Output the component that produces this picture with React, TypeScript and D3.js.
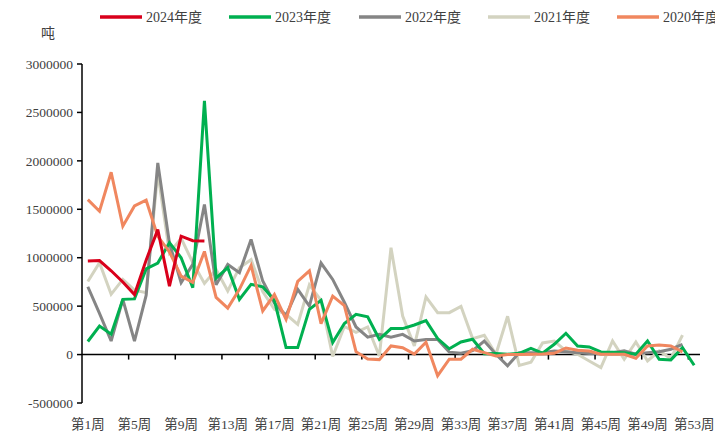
import React from "react";
import * as d3 from "d3";

const weeks: string[] = Array.from({ length: 53 }, (_, i) => `第${i + 1}周`);
const xTickLabels = ["第1周", "第5周", "第9周", "第13周", "第17周", "第21周", "第25周", "第29周", "第33周", "第37周", "第41周", "第45周", "第49周", "第53周"];
const yTicks = [-500000, 0, 500000, 1000000, 1500000, 2000000, 2500000, 3000000];

const s2024 = [965000, 970000, 865000, 750000, 620000, 975000, 1290000, 707000, 1222000, 1175000, 1172000];
const s2023 = [135000, 295000, 210000, 570000, 575000, 885000, 945000, 1155000, 1000000, 690000, 2620000, 790000, 897000, 570000, 725000, 700000, 560000, 72000, 72000, 467000, 560000, 124000, 320000, 415000, 390000, 158000, 268000, 268000, 305000, 350000, 165000, 60000, 130000, 158000, 8000, 10000, 3000, 13000, 65000, 15000, 106000, 220000, 89000, 79000, 27000, 25000, 20000, 3000, 140000, -48000, -55000, 72000, -110000];
const s2022 = [700000, 425000, 140000, 570000, 140000, 610000, 1979000, 1150000, 742000, 931000, 1549000, 720000, 930000, 845000, 1188000, 759000, 530000, 405000, 673000, 501000, 945000, 776000, 540000, 285000, 180000, 209000, 180000, 209000, 140000, 155000, 155000, 25000, 13000, 40000, 140000, 3000, -115000, 20000, 20000, 20000, 37000, 30000, 20000, 10000, 10000, 20000, 40000, 5000, 20000, 30000, 55000, 106000];
const s2021 = [755000, 948000, 622000, 776000, 665000, 639000, 1880000, 1050000, 1200000, 950000, 735000, 879000, 656000, 897000, 980000, 650000, 467000, 415000, 312000, 720000, 560000, -20000, 290000, 230000, 285000, -15000, 1103000, 398000, 90000, 595000, 433000, 433000, 498000, 165000, 199000, 3000, 395000, -113000, -80000, 120000, 140000, 37000, 3000, -66000, -135000, 140000, -48000, 130000, -66000, 37000, -41000, 200000];
const s2020 = [1600000, 1480000, 1882000, 1326000, 1535000, 1594000, 1220000, 1060000, 810000, 745000, 1065000, 590000, 480000, 673000, 920000, 450000, 620000, 364000, 755000, 865000, 320000, 604000, 505000, 30000, -45000, -52000, 89000, 70000, 5000, 128000, -218000, -48000, -48000, 55000, 20000, -15000, 0, 0, 3000, 5000, 13000, 68000, 44000, 37000, 3000, 3000, 3000, -38000, 89000, 99000, 89000, 27000];

const seriesNames = ["2024年度", "2023年度", "2022年度", "2021年度", "2020年度"];
const seriesColors = ["#d9001b", "#00b050", "#858585", "#d3d3c0", "#f0875f"];
const seriesData = [s2024, s2023, s2022, s2021, s2020];
const drawOrder = [3, 2, 1, 4, 0];

const W = 715;
const H = 431;
const FONT = "'Liberation Serif', 'Noto Sans CJK SC', serif";

export default function App() {
  const x = d3.scaleBand<string>().domain(weeks).range([82, 700]).padding(0);
  const y = d3.scaleLinear().domain([-500000, 3000000]).range([403, 64]);
  const bw = x.bandwidth();
  const cx = (i: number) => (x(weeks[i]) as number) + bw / 2;

  const line = d3
    .line<number>()
    .x((_, i) => cx(i))
    .y((d) => y(d));

  const legendX = [100, 229, 359, 488, 617];
  const tickBoundaries = d3.range(4, 53, 4);

  return (
    <svg
      width={W}
      height={H}
      style={{ position: "absolute", left: 0, top: 0, background: "#fff" }}
      fontFamily={FONT}
    >
      <rect x={0} y={0} width={W} height={H} fill="#fff" />
      {/* legend */}
      {seriesNames.map((n, i) => (
        <g key={n}>
          <line x1={legendX[i]} x2={legendX[i] + 42} y1={17} y2={17} stroke={seriesColors[i]} strokeWidth={3.5} />
          <text x={legendX[i] + 46} y={17} dy="0.35em" fontSize={14} fill="#404040">
            {n}
          </text>
        </g>
      ))}
      <text x={48} y={33} dy="0.35em" fontSize={14} fill="#404040" textAnchor="middle">
        吨
      </text>
      {/* y axis */}
      <line x1={82} x2={82} y1={y(3000000)} y2={y(-500000)} stroke="#000" strokeWidth={1.5} />
      {yTicks.map((t) => (
        <g key={t}>
          <line x1={77} x2={82} y1={y(t)} y2={y(t)} stroke="#000" strokeWidth={1.5} />
          <text x={73} y={y(t)} dy="0.35em" textAnchor="end" fontSize={13.5} fill="#404040">
            {t}
          </text>
        </g>
      ))}
      {/* x axis at zero */}
      <line x1={82} x2={700} y1={y(0)} y2={y(0)} stroke="#000" strokeWidth={1.5} />
      {tickBoundaries.map((k) => (
        <line key={k} x1={82 + k * bw} x2={82 + k * bw} y1={y(0)} y2={y(0) + 5} stroke="#000" strokeWidth={1.5} />
      ))}
      {xTickLabels.map((lab) => (
        <text key={lab} x={(x(lab) as number) + bw / 2} y={424} dy="0.35em" textAnchor="middle" fontSize={13.5} fill="#404040">
          {lab}
        </text>
      ))}
      {/* series */}
      {drawOrder.map((si) => (
        <path
          key={seriesNames[si]}
          d={line(seriesData[si]) || ""}
          fill="none"
          stroke={seriesColors[si]}
          strokeWidth={3}
          strokeLinejoin="miter"
          strokeMiterlimit={3}
        />
      ))}
    </svg>
  );
}
